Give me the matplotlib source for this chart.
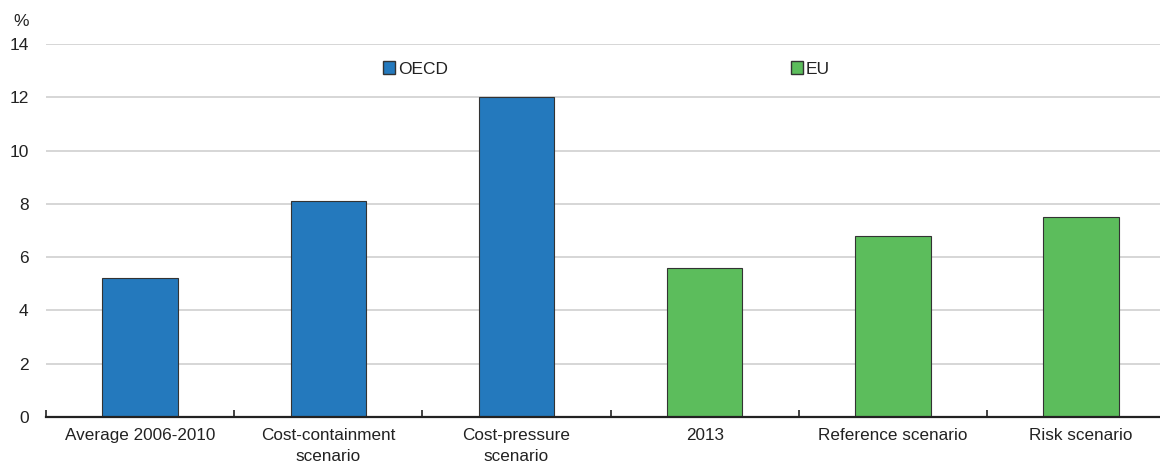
import matplotlib
matplotlib.use("Agg")
import matplotlib.pyplot as plt
from matplotlib.patches import Patch
import numpy as np

plt.rcParams['font.family'] = ['Liberation Sans', 'DejaVu Sans']

categories = ["Average 2006-2010", "Cost-containment\nscenario", "Cost-pressure\nscenario",
              "2013", "Reference scenario", "Risk scenario"]
values = [5.2, 8.1, 12.0, 5.6, 6.8, 7.5]
groups = ["OECD", "OECD", "OECD", "EU", "EU", "EU"]
group_colors = {"OECD": "#2479bd", "EU": "#5cbd5c"}
yticks = [0, 2, 4, 6, 8, 10, 12, 14]

W, H = 1160, 467
fig = plt.figure(figsize=(W / 100, H / 100), dpi=100)
left, right, bottom, top = 46, 1160, 417, 44
step = 188.2  # pixels per category slot
ax = fig.add_axes([left / W, (H - bottom) / H, (right - left) / W, (bottom - top) / H])

x = np.arange(len(categories))
ax.bar(x, values, width=0.40, color=[group_colors[g] for g in groups],
       edgecolor="#333333", linewidth=0.8, zorder=3)

ax.set_yticks(yticks)
ax.yaxis.grid(True, color="#d0d0d0", linewidth=1.2, zorder=0)
ax.tick_params(axis="y", length=0, pad=12.5, labelsize=12.5, labelcolor="#222222")

ax.set_xticks(x)
ax.set_xticklabels(categories, fontsize=12.3, color="#222222", linespacing=1.5)
ax.tick_params(axis="x", which="major", length=0, pad=8)
ax.set_xticks(np.arange(len(categories)) - 0.5, minor=True)
ax.tick_params(axis="x", which="minor", direction="in", length=5, width=1.2, color="#222222")

ax.set_ylim(0, 14)
ax.set_xlim(-0.5, -0.5 + (right - left) / step)

for s in ["top", "right", "left"]:
    ax.spines[s].set_visible(False)
ax.spines["bottom"].set_color("#222222")
ax.spines["bottom"].set_linewidth(1.6)
ax.spines["bottom"].set_zorder(4)

fig.text(13 / W, (H - 22) / H, "%", fontsize=12.5, color="#222222", va="center", ha="left")

leg_kw = dict(frameon=False, fontsize=12.5, handlelength=0.72, handleheight=0.72,
              handletextpad=0.15, borderpad=0, labelcolor="#222222")
leg1 = ax.legend(handles=[Patch(facecolor=group_colors["OECD"], edgecolor="#333333", label="OECD")],
                 loc="center left", bbox_to_anchor=((374 - left) / (right - left), (bottom - 69) / (bottom - top)),
                 **leg_kw)
ax.add_artist(leg1)
ax.legend(handles=[Patch(facecolor=group_colors["EU"], edgecolor="#333333", label="EU")],
          loc="center left", bbox_to_anchor=((782 - left) / (right - left), (bottom - 69) / (bottom - top)),
          **leg_kw)

fig.savefig("out.png", dpi=100)
